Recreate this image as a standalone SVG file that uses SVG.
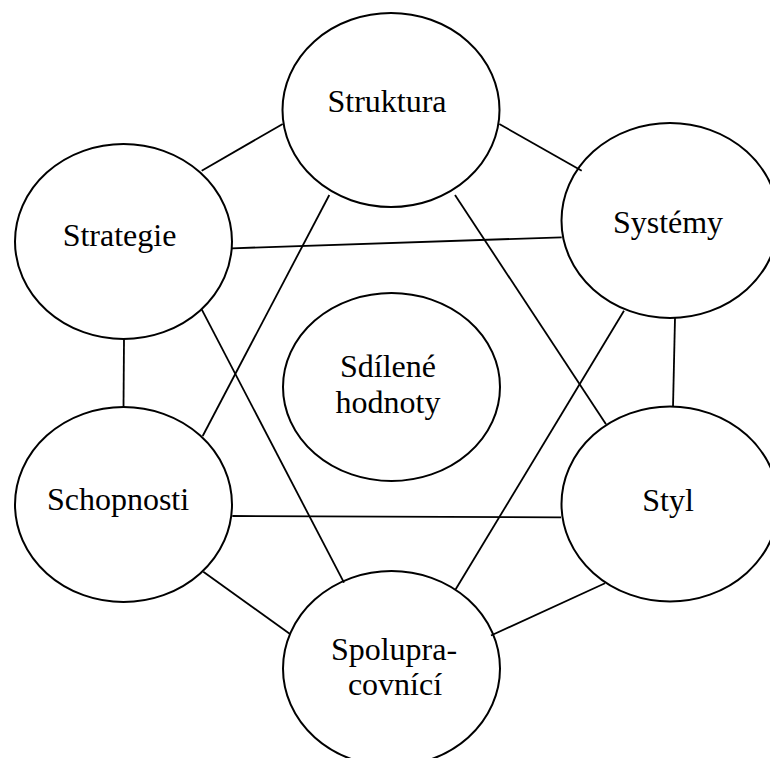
<svg xmlns="http://www.w3.org/2000/svg" width="770" height="758" viewBox="0 0 770 758">
<style>
.n ellipse{fill:#fff;stroke:#000;stroke-width:2}
.n text{font-family:"Liberation Serif","Times New Roman",serif;font-size:32px;fill:#000;text-anchor:middle}
#connectors line{stroke:#000;stroke-width:1.8;stroke-linecap:butt}
</style>
<rect width="770" height="758" fill="#fff"/>
<g id="struktura" class="n"><ellipse cx="391" cy="110" rx="108.5" ry="97"/><text x="387" y="112">Struktura</text></g>
<g id="systemy" class="n"><ellipse cx="670" cy="220.5" rx="108.5" ry="97.5"/><text x="668" y="233">Systémy</text></g>
<g id="strategie" class="n"><ellipse cx="123.5" cy="241.5" rx="108.5" ry="97.5"/><text x="119.5" y="246">Strategie</text></g>
<g id="sdilene" class="n"><ellipse cx="391.5" cy="387" rx="108.5" ry="94"/><text x="388" y="377">Sdílené</text><text x="388" y="413">hodnoty</text></g>
<g id="schopnosti" class="n"><ellipse cx="123.5" cy="504.5" rx="108.5" ry="97.5"/><text x="118" y="510">Schopnosti</text></g>
<g id="styl" class="n"><ellipse cx="670" cy="504" rx="108.5" ry="97.5"/><text x="668" y="511">Styl</text></g>
<g id="spolupracovnici" class="n"><ellipse cx="391.5" cy="668.5" rx="108.5" ry="97.5"/><text x="394" y="660">Spolupra-</text><text x="395" y="695">covnící</text></g>
<g id="connectors">
<line x1="282.7" y1="124" x2="201.7" y2="170.7"/>
<line x1="499.3" y1="124" x2="581.7" y2="170.7"/>
<line x1="231.7" y1="248.3" x2="561.7" y2="237.3"/>
<line x1="329.3" y1="195" x2="202.7" y2="436"/>
<line x1="455" y1="195" x2="606" y2="424.3"/>
<line x1="201.7" y1="309.3" x2="344" y2="582.7"/>
<line x1="624" y1="310.7" x2="455.7" y2="589.3"/>
<line x1="124" y1="339" x2="123.5" y2="407"/>
<line x1="675" y1="318" x2="673" y2="407"/>
<line x1="232.3" y1="516" x2="561" y2="517.3"/>
<line x1="203.3" y1="571.7" x2="290" y2="634"/>
<line x1="605" y1="583.3" x2="491" y2="635.5"/>
</g>
</svg>
